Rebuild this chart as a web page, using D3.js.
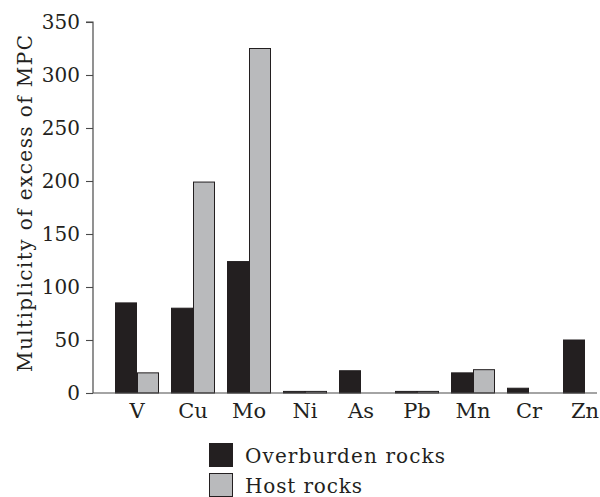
<!DOCTYPE html>
<html>
<head>
<meta charset="utf-8">
<script src="https://cdn.jsdelivr.net/npm/d3@7"></script>
<style>
  html, body { margin: 0; padding: 0; background: #fff; }
  svg text { font-family: "DejaVu Serif", serif; fill: #231f20; }
</style>
</head>
<body>
<svg id="chart" width="600" height="497"></svg>
<script>
// Elements and their multiplicity of MPC excess
const elements = ["V", "Cu", "Mo", "Ni", "As", "Pb", "Mn", "Cr", "Zn"];
const overburden = [85, 80, 124, 1.5, 21, 1.5, 19, 4.5, 50];
const host = [19, 199, 325, 1.5, 0, 1.5, 22, 0, 0];
const seriesNames = ["Overburden rocks", "Host rocks"];
const seriesColors = ["#231f20", "#b9babc"];
const yTicks = [0, 50, 100, 150, 200, 250, 300, 350];

const svg = d3.select("#chart");
const axisX0 = 93, axisX1 = 597, yTop = 22, yBottom = 393;
const fs = 20;
const axisColor = "#4a4a4a";

const y = d3.scaleLinear().domain([0, 350]).range([yBottom, yTop]);
const x = d3.scaleBand().domain(elements).range([115, 607])
  .paddingInner(12 / 56).paddingOuter(0);
const xs = d3.scaleBand().domain([0, 1]).range([0, x.bandwidth()]);

const rows = elements.map((e, i) => ({ e, vals: [overburden[i], host[i]] }));

// bars
const groups = svg.append("g").selectAll("g").data(rows).join("g")
  .attr("transform", d => `translate(${x(d.e)},0)`);
groups.selectAll("rect").data(d => d.vals.map((v, k) => ({ v, k })))
  .join("rect")
  .filter(d => d.v > 0)
  .attr("x", d => xs(d.k) + 0.5)
  .attr("width", xs.bandwidth() - 1)
  .attr("y", d => y(d.v))
  .attr("height", d => yBottom - y(d.v))
  .attr("fill", d => seriesColors[d.k])
  .attr("stroke", "#231f20")
  .attr("stroke-width", 1);

// y axis
const yAxis = svg.append("g").attr("transform", `translate(${axisX0},0)`)
  .call(d3.axisLeft(y).tickValues(yTicks).tickSize(7).tickPadding(6));
yAxis.select(".domain").attr("stroke", axisColor).attr("stroke-width", 1.2)
  .attr("d", `M-7,${yTop}H0V${yBottom}`);
yAxis.selectAll(".tick line").attr("stroke", axisColor).attr("stroke-width", 1.1);
yAxis.selectAll(".tick text").attr("font-size", fs).attr("font-family", "DejaVu Serif").attr("fill", "#231f20");

// x axis baseline
svg.append("line").attr("x1", axisX0).attr("x2", axisX1)
  .attr("y1", yBottom).attr("y2", yBottom)
  .attr("stroke", axisColor).attr("stroke-width", 1.2);

// category labels
svg.append("g").selectAll("text").data(elements).join("text")
  .attr("x", d => x(d) + x.bandwidth() / 2)
  .attr("y", 418)
  .attr("text-anchor", "middle")
  .attr("font-size", 21)
  .text(d => d);

// y title
svg.append("text")
  .attr("transform", `translate(32,${(35 + 372) / 2}) rotate(-90)`)
  .attr("text-anchor", "middle")
  .attr("font-size", fs)
  .attr("textLength", 337)
  .attr("lengthAdjust", "spacing")
  .text("Multiplicity of excess of MPC");

// legend
const legendWidths = [200, 117];
const legend = svg.append("g").selectAll("g").data(seriesNames).join("g")
  .attr("transform", (d, i) => `translate(209,${443 + i * 30})`);
legend.append("rect")
  .attr("x", 0.5).attr("y", 0.5).attr("width", 23).attr("height", 23)
  .attr("fill", (d, i) => seriesColors[i])
  .attr("stroke", "#231f20").attr("stroke-width", 1);
legend.append("text")
  .attr("x", 36).attr("y", 20)
  .attr("font-size", fs)
  .attr("textLength", (d, i) => legendWidths[i])
  .attr("lengthAdjust", "spacing")
  .text(d => d);
</script>
</body>
</html>
